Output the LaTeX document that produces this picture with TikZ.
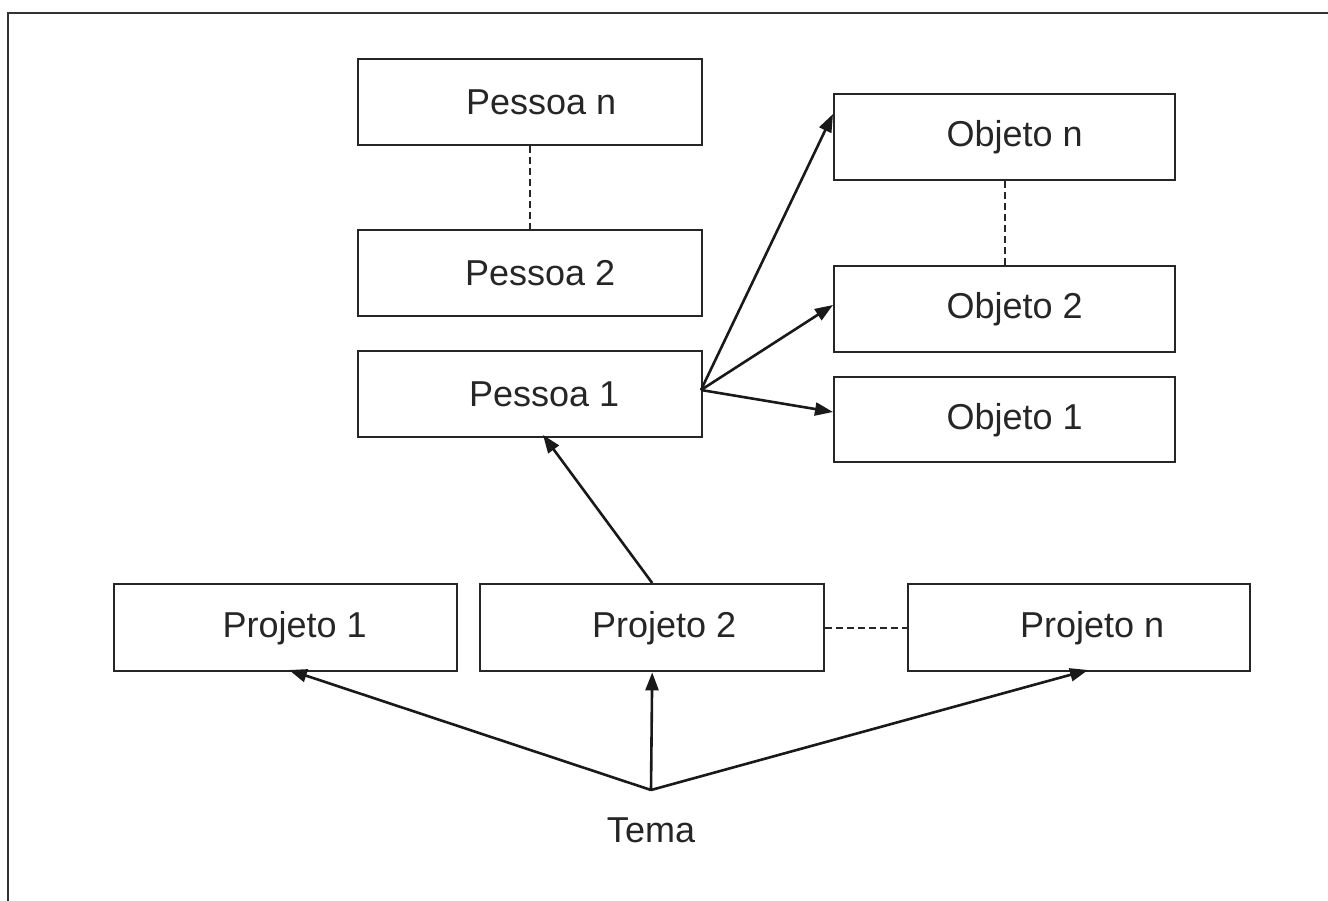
\documentclass[tikz,border=0pt]{standalone}
\usepackage{fontspec}
\setmainfont{Liberation Sans}
\usetikzlibrary{arrows.meta}
\begin{document}
\begin{tikzpicture}[x=1pt,y=-1pt,
  box/.style={draw=black!85,line width=2.4pt,minimum width=344pt,minimum height=86pt,inner sep=0pt,anchor=north west},
  lbl/.style={font=\fontsize{36}{42}\selectfont,text=black!85,inner sep=0pt},
  arr/.style={draw=black!90,line width=2.6pt,-{Triangle[length=18pt,width=13pt]}},
  dashln/.style={draw=black!85,line width=1.8pt,dash pattern=on 7pt off 4pt}]
\useasboundingbox (0,0) rectangle (1328,901);
\draw[line width=2.6pt,black!80] (8,901) -- (8,13) -- (1328,13);
% Pessoa column
\node[box,label={[lbl,xshift=11pt]center:Pessoa n}] (pn) at (357,58) {};
\node[box,label={[lbl,xshift=10pt]center:Pessoa 2}] (p2) at (357,229) {};
\node[box,label={[lbl,xshift=14pt]center:Pessoa 1}] (p1) at (357,350) {};
% Objeto column
\node[box,minimum width=341pt,label={[lbl,xshift=10pt]center:Objeto n}] (on) at (833,93) {};
\node[box,minimum width=341pt,label={[lbl,xshift=10pt]center:Objeto 2}] (o2) at (833,265) {};
\node[box,minimum width=341pt,minimum height=85pt,label={[lbl,xshift=10pt]center:Objeto 1}] (o1) at (833,376) {};
% Projeto row
\node[box,minimum width=343pt,minimum height=87pt,label={[lbl,xshift=9pt]center:Projeto 1}] (j1) at (113,583) {};
\node[box,minimum height=87pt,label={[lbl,xshift=12pt]center:Projeto 2}] (j2) at (479,583) {};
\node[box,minimum width=342pt,minimum height=87pt,label={[lbl,xshift=13pt]center:Projeto n}] (jn) at (907,583) {};
% Tema
\node[lbl] (tema) at (651,830) {Tema};
\coordinate (t) at (651,790);
\coordinate (p1r) at (701,390);
\coordinate (j1in) at (289,670);
\coordinate (jnin) at (1088,670);
\coordinate (p1in) at (543,435);
\coordinate (onin) at (833,114);
\coordinate (o2in) at (833,305);
\coordinate (o1in) at (833,412);
% dashed links
\draw[dashln] (pn.south) -- (p2.north);
\draw[dashln] (on.south) -- (o2.north);
\draw[dashln] (j2.east) -- (jn.west);
% arrows
\draw[arr] (t) -- (j1in);
\draw[arr] (t) -- (j2.south);
\draw[arr] (t) -- (jnin);
\draw[arr] (j2.north) -- (p1in);
\draw[arr] (p1r) -- (onin);
\draw[arr] (p1r) -- (o2in);
\draw[arr] (p1r) -- (o1in);
\end{tikzpicture}
\end{document}
